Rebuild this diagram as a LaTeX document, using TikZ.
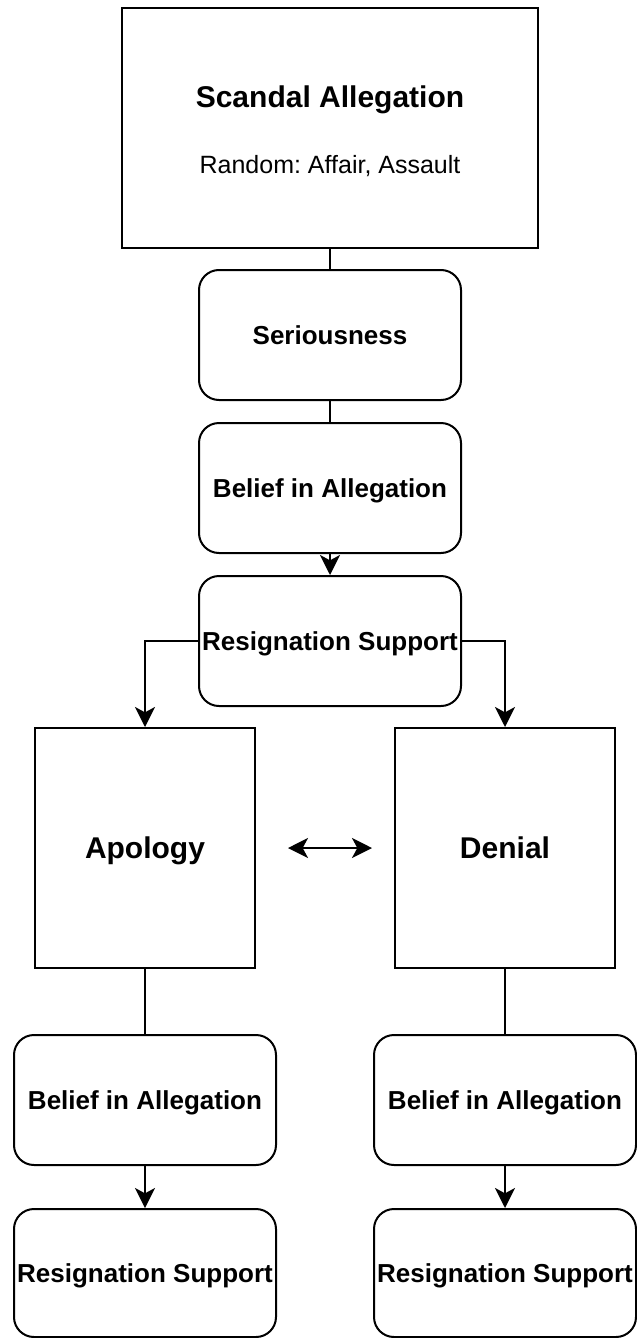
\documentclass[tikz,border=0pt]{standalone}
\usepackage{fontspec}
\setmainfont{Liberation Sans}
\usetikzlibrary{arrows.meta}
\frenchspacing
\tikzset{
  plainbox/.style={draw=black,line width=1.5pt,rectangle,inner sep=0pt,
    align=center},
  roundbox/.style={draw=black,line width=1.5pt,rounded corners=15pt,
    minimum width=196.5pt,minimum height=97.5pt,inner sep=0pt,align=center,
    text height=14pt,text depth=0pt,
    font=\fontsize{19.5}{23}\selectfont\bfseries},
  choicebox/.style={plainbox,minimum width=165pt,minimum height=180pt,
    text height=16pt,text depth=0pt,
    font=\fontsize{22.5}{27}\selectfont\bfseries},
  link/.style={line width=1.5pt,draw=black},
  flowarrow/.style={link,-{Stealth[length=15pt,width=15pt,inset=4pt]}},
  twoway/.style={link,{Stealth[length=15pt,width=15pt,inset=4pt]}-{Stealth[length=15pt,width=15pt,inset=4pt]}},
}

\begin{document}
\begin{tikzpicture}[x=0.75pt,y=-0.75pt]
  \useasboundingbox (0,0) rectangle (636,1338);
  % allegation
  \node[plainbox,minimum width=312pt,minimum height=180pt] (scandal) at (330,128) {};
  \node[anchor=base,font=\fontsize{22.5}{27}\selectfont\bfseries] (scandaltitle) at (330,108) {Scandal Allegation};
  \node[anchor=base,font=\fontsize{18.75}{22.5}\selectfont] (scandalsub) at (330,173) {Random: Affair, Assault};
  % first chain
  \node[roundbox] (serious) at (330,335) {Seriousness};
  \node[roundbox] (belief) at (330,488) {Belief in Allegation};
  \node[roundbox] (resign) at (330,641) {Resignation Support};
  % responses
  \node[choicebox] (apology) at (145,848) {Apology};
  \node[choicebox] (denial) at (505,848) {Denial};
  % second chains
  \node[roundbox] (beliefA) at (145,1100) {Belief in Allegation};
  \node[roundbox] (beliefD) at (505,1100) {Belief in Allegation};
  \node[roundbox,minimum height=96pt] (resignA) at (145,1273) {Resignation Support};
  \node[roundbox,minimum height=96pt] (resignD) at (505,1273) {Resignation Support};

  \draw[link] (scandal) -- (serious);
  \draw[link] (serious) -- (belief);
  \draw[flowarrow] (belief) -- (resign);
  \draw[flowarrow] (resign.west) -| (apology.north);
  \draw[flowarrow] (resign.east) -| (denial.north);
  \draw[twoway,shorten <=24pt,shorten >=16.5pt] (apology) -- (denial);
  \draw[link] (apology) -- (beliefA);
  \draw[link] (denial) -- (beliefD);
  \draw[flowarrow] (beliefA) -- (resignA);
  \draw[flowarrow] (beliefD) -- (resignD);
\end{tikzpicture}
\end{document}
